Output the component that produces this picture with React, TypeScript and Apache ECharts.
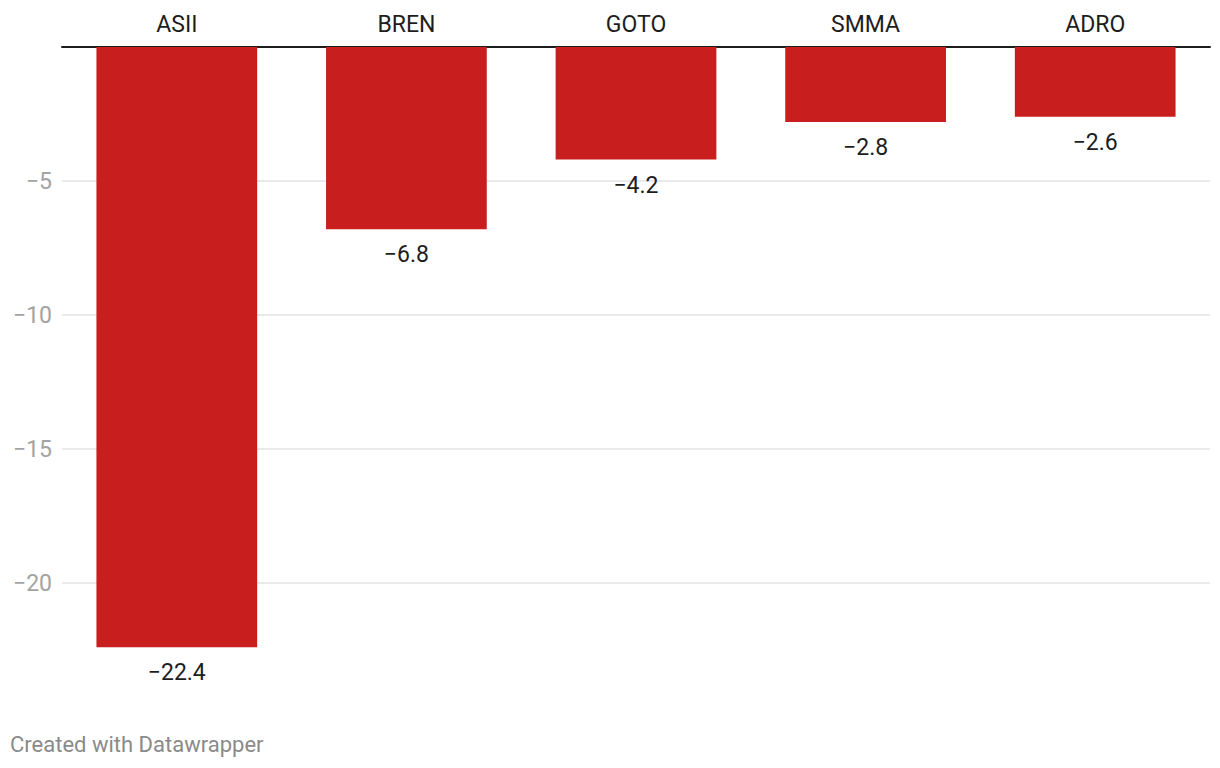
import React, { useEffect, useRef } from "react";
import * as echarts from "echarts";

const categories = ["ASII", "BREN", "GOTO", "SMMA", "ADRO"];
const values = [-22.4, -6.8, -4.2, -2.8, -2.6];
const yTicks = [-25, -20, -15, -10, -5, 0];
const footerText = "Created with Datawrapper";

const fmtMinus = (v: number, digits: number) => {
  const s = Math.abs(v).toFixed(digits);
  return v < 0 ? "\u2212" + s : s;
};

export default function App() {
  const ref = useRef<HTMLDivElement>(null);
  useEffect(() => {
    if (!ref.current) return;
    const chart = echarts.init(ref.current, undefined, { renderer: "svg" });
    chart.setOption({
      animation: false,
      textStyle: { fontFamily: "Roboto" },
      grid: { left: 62, right: 10, top: 47, bottom: 51 },
      xAxis: {
        type: "category",
        position: "top",
        data: categories,
        axisLine: { show: true, onZero: false, lineStyle: { color: "#1d1d1d", width: 2 } },
        axisTick: { show: false },
        axisLabel: { color: "#1d1d1d", fontSize: 23, margin: 11, fontFamily: "Roboto" },
      },
      yAxis: {
        type: "value",
        min: yTicks[0],
        max: yTicks[yTicks.length - 1],
        interval: 5,
        axisLine: { show: false },
        axisTick: { show: false },
        axisLabel: {
          color: "#a3a3a3",
          fontSize: 23,
          margin: 10,
          fontFamily: "Roboto",
          showMinLabel: false,
          showMaxLabel: false,
          formatter: (v: number) => fmtMinus(v, 0),
        },
        splitLine: {
          show: true,
          showMinLine: false,
          showMaxLine: false,
          lineStyle: { color: "#e3e3e3", width: 1.5 },
        },
      },
      series: [
        {
          type: "bar",
          data: values,
          barWidth: "70%",
          itemStyle: { color: "#c81e1e" },
          label: {
            show: true,
            position: "bottom",
            distance: 14,
            color: "#1d1d1d",
            fontSize: 23,
            fontFamily: "Roboto",
            formatter: (p: any) => fmtMinus(p.value, 1),
          },
        },
      ],
      graphic: [
        {
          type: "text",
          left: 10,
          top: 733,
          style: { text: footerText, fill: "#8a8a8a", fontSize: 22, fontFamily: "Roboto" },
        },
      ],
    });
    return () => chart.dispose();
  }, []);
  return (
    <div
      ref={ref}
      style={{ position: "fixed", left: 0, top: 0, width: 1220, height: 768, background: "#fff" }}
    />
  );
}
